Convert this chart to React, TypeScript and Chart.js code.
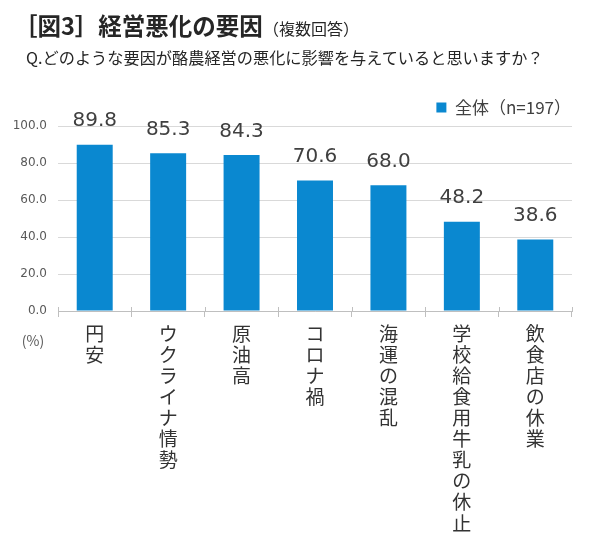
import React, { useEffect, useRef } from "react";
import { Chart, registerables } from "chart.js";

Chart.register(...registerables);

const categories: string[] = [
  "円安",
  "ウクライナ情勢",
  "原油高",
  "コロナ禍",
  "海運の混乱",
  "学校給食用牛乳の休止",
  "飲食店の休業",
];
const values: number[] = [89.8, 85.3, 84.3, 70.6, 68.0, 48.2, 38.6];
const yTicks: number[] = [0, 20, 40, 60, 80, 100];
const seriesName = "全体（n=197）";
const unitLabel = "(%)";

const BAR_COLOR = "#0a88d0";
const NUM_FONT = "'DejaVu Sans', Verdana, sans-serif";
const JP_FONT = "'Noto Sans CJK JP', 'Noto Sans', sans-serif";

const valueLabelPlugin = {
  id: "valueLabels",
  afterDatasetsDraw(chart: any) {
    const ctx = chart.ctx;
    const meta = chart.getDatasetMeta(0);
    ctx.save();
    ctx.fillStyle = "#404040";
    ctx.font = `20px ${NUM_FONT}`;
    ctx.textAlign = "center";
    ctx.textBaseline = "alphabetic";
    meta.data.forEach((el: any, i: number) => {
      ctx.fillText(values[i].toFixed(1), el.x, el.y - 18.5);
    });
    ctx.restore();
  },
};

const extrasPlugin = {
  id: "extras",
  afterDraw(chart: any) {
    const ctx = chart.ctx;
    const area = chart.chartArea;
    const xs = chart.scales.x;
    ctx.save();
    ctx.strokeStyle = "#bfbfbf";
    ctx.lineWidth = 1;
    const n = categories.length;
    for (let i = 0; i <= n; i++) {
      let px: number;
      if (i === 0) px = area.left;
      else if (i === n) px = area.right;
      else px = (xs.getPixelForValue(i - 1) + xs.getPixelForValue(i)) / 2;
      px = Math.round(px) + 0.5;
      ctx.beginPath();
      ctx.moveTo(px, area.bottom - 4);
      ctx.lineTo(px, area.bottom);
      ctx.stroke();
    }
    ctx.fillStyle = "#595959";
    ctx.font = `14px ${JP_FONT}`;
    ctx.textAlign = "center";
    ctx.textBaseline = "middle";
    ctx.fillText(unitLabel, area.left - 25, area.bottom + 30);
    ctx.restore();
  },
};

export default function App() {
  const canvasRef = useRef<HTMLCanvasElement | null>(null);

  useEffect(() => {
    if (!canvasRef.current) return;
    const chart = new Chart(canvasRef.current, {
      type: "bar",
      data: {
        labels: categories,
        datasets: [
          {
            label: seriesName,
            data: values,
            backgroundColor: BAR_COLOR,
            borderWidth: 0,
            barPercentage: 0.49,
            categoryPercentage: 1,
          },
        ],
      },
      options: {
        responsive: false,
        animation: false,
        layout: { padding: { top: 98, right: 28, left: 0, bottom: 0 } },
        plugins: {
          legend: {
            display: true,
            position: "top",
            align: "end",
            labels: {
              boxWidth: 10,
              boxHeight: 10,
              padding: 1,
              color: "#404040",
              font: { family: JP_FONT, size: 17 },
            },
          },
          tooltip: { enabled: false },
          title: { display: false },
        },
        scales: {
          x: {
            grid: {
              display: true,
              drawOnChartArea: false,
              drawTicks: true,
              tickLength: 6,
              color: "#bfbfbf",
              offset: true,
            },
            border: { display: true, color: "#bfbfbf" },
            ticks: {
              autoSkip: false,
              maxRotation: 0,
              minRotation: 0,
              padding: 6,
              color: "#333333",
              font: { family: JP_FONT, size: 19, lineHeight: 1.11 },
              callback: (_v: any, i: number) => categories[i].split(""),
            },
            afterFit: (scale: any) => {
              scale.height = 249;
            },
          },
          y: {
            min: 0,
            max: 100,
            afterBuildTicks: (scale: any) => {
              scale.ticks = yTicks.map((v) => ({ value: v }));
            },
            grid: { color: "#d9d9d9", drawTicks: false },
            border: { display: false },
            ticks: {
              padding: 11,
              color: "#595959",
              font: { family: NUM_FONT, size: 12 },
              callback: (v: any) => Number(v).toFixed(1),
            },
            afterFit: (scale: any) => {
              scale.width = 58;
            },
          },
        },
      },
      plugins: [valueLabelPlugin, extrasPlugin],
    });
    return () => chart.destroy();
  }, []);

  return (
    <div
      style={{
        position: "absolute",
        left: 0,
        top: 0,
        width: 600,
        height: 560,
        background: "#ffffff",
        overflow: "hidden",
      }}
    >
      <canvas
        ref={canvasRef}
        width={600}
        height={560}
        style={{ position: "absolute", left: 0, top: 0, display: "block" }}
      />
      <div
        style={{
          position: "absolute",
          left: 14,
          top: 11,
          whiteSpace: "nowrap",
          fontFamily: JP_FONT,
          color: "#262626",
          lineHeight: 1.2,
        }}
      >
        <span style={{ fontSize: 23.5, fontWeight: 700 }}>［図3］経営悪化の要因</span>
        <span style={{ fontSize: 16 }}>（複数回答）</span>
      </div>
      <div
        style={{
          position: "absolute",
          left: 26,
          top: 48,
          whiteSpace: "nowrap",
          fontFamily: JP_FONT,
          fontSize: 16.2,
          color: "#262626",
          lineHeight: 1.2,
        }}
      >
        Q.どのような要因が酪農経営の悪化に影響を与えていると思いますか？
      </div>
    </div>
  );
}
